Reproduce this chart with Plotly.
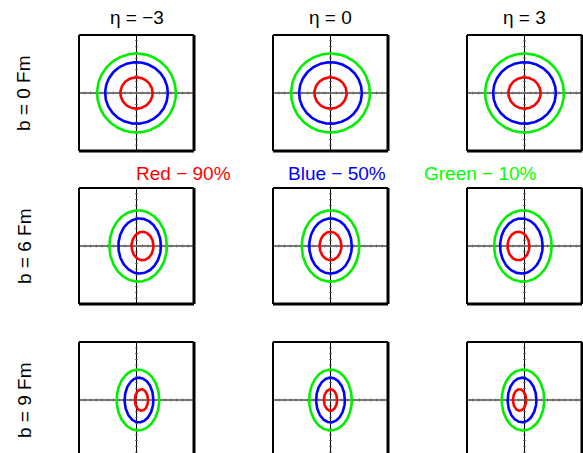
import numpy as np
import plotly.graph_objects as go

# Transverse-plane density contours for three impact parameters and three rapidities
eta_values = [-3, 0, 3]
b_values = [0, 6, 9]
level_names = ["Red", "Blue", "Green"]
level_pct = ["90%", "50%", "10%"]
level_colors = ["#ff0000", "#0000ff", "#00ee00"]
text_colors = ["#ff0000", "#0000ff", "#00ff00"]

# Semi-axes (fm) of each contour level, per impact parameter: [red, blue, green]
semi_x = {0: [2.8, 5.45, 6.85], 6: [1.9, 3.7, 5.0], 9: [1.15, 2.5, 3.7]}
semi_y = {0: [2.7, 5.3, 6.8], 6: [2.45, 4.75, 6.15], 9: [1.85, 3.85, 5.25]}
# Horizontal centre shift (fm) of each level at eta = -3 (mirrored at eta = +3)
shift_fwd = {0: [0.0, 0.0, 0.0], 6: [1.05, 0.55, 0.28], 9: [0.86, 0.43, 0.26]}

half_range = 10.0  # fm shown either side of the origin

# Page geometry (px)
W, H = 583, 453
col_left = [79, 273, 467]
row_top = [35, 188, 342]
panel_w, panel_h = 115, 116

font_family = "Liberation Sans, Arial, Helvetica, sans-serif"
font_size = 19

fig = go.Figure()
shapes = []
t = np.linspace(0, 2 * np.pi, 240)
ticks = np.arange(-10, 11, 1)

n = 0
for r, b in enumerate(b_values):
    for c, eta in enumerate(eta_values):
        n += 1
        xa = "x" if n == 1 else f"x{n}"
        ya = "y" if n == 1 else f"y{n}"
        xk = "xaxis" if n == 1 else f"xaxis{n}"
        yk = "yaxis" if n == 1 else f"yaxis{n}"

        # panel placement, clipped at the bottom of the page
        x0, x1 = col_left[c] / W, (col_left[c] + panel_w) / W
        top_px, bot_px = row_top[r], row_top[r] + panel_h
        px_per_fm = panel_h / (2 * half_range)
        y_lo = -half_range
        clipped = bot_px > H
        if clipped:
            y_lo = -half_range + (bot_px - H) / px_per_fm
            bot_px = H
        y0, y1 = 1 - bot_px / H, 1 - top_px / H

        axis_common = dict(showgrid=False, showticklabels=False, ticks="",
                           zeroline=True, showline=False, fixedrange=True)
        # x zeroline is the vertical crosshair, y zeroline the horizontal one
        fig.layout[xk] = dict(domain=[x0, x1], range=[-half_range, half_range],
                              anchor=ya, zerolinecolor="#000", zerolinewidth=1,
                              **axis_common)
        fig.layout[yk] = dict(domain=[y0, y1], range=[y_lo, half_range],
                              anchor=xa, zerolinecolor="#777", zerolinewidth=1.6,
                              **axis_common)

        # faint ticks along the crosshair
        fig.add_trace(go.Scatter(x=ticks, y=np.zeros_like(ticks), mode="markers",
                                 marker=dict(symbol="line-ns-open", size=2, color="#666",
                                             line=dict(color="#666", width=1)),
                                 xaxis=xa, yaxis=ya, hoverinfo="skip", showlegend=False))
        fig.add_trace(go.Scatter(x=np.zeros_like(ticks), y=ticks, mode="markers",
                                 marker=dict(symbol="line-ew-open", size=2, color="#666",
                                             line=dict(color="#666", width=1)),
                                 xaxis=xa, yaxis=ya, hoverinfo="skip", showlegend=False))

        # contour ellipses, outermost first
        sign = -np.sign(eta) if eta != 0 else 0
        for k in [2, 1, 0]:
            cx = sign * shift_fwd[b][k]
            fig.add_trace(go.Scatter(
                x=cx + semi_x[b][k] * np.cos(t), y=semi_y[b][k] * np.sin(t),
                mode="lines", line=dict(color=level_colors[k], width=2.6),
                xaxis=xa, yaxis=ya, hoverinfo="skip", showlegend=False))

        # frame: thin left/top, heavier right/bottom
        dom = dict(xref=f"{xa} domain", yref=f"{ya} domain")
        shapes.append(dict(type="line", x0=0, x1=0, y0=0, y1=1,
                           line=dict(color="black", width=2), **dom))
        shapes.append(dict(type="line", x0=0, x1=1, y0=1, y1=1,
                           line=dict(color="black", width=2), **dom))
        shapes.append(dict(type="line", x0=1, x1=1, y0=0, y1=1,
                           line=dict(color="black", width=3), **dom))
        if not clipped:
            shapes.append(dict(type="line", x0=0, x1=1, y0=0, y1=0,
                               line=dict(color="black", width=3), **dom))

annotations = []
# column headers
for c, eta in enumerate(eta_values):
    label = f"\u03b7 = {eta}".replace("-", "\u2212")
    annotations.append(dict(text=label, xref="paper", yref="paper",
                            x=(col_left[c] + panel_w / 2) / W, y=1 - 18 / H,
                            xanchor="center", yanchor="middle", showarrow=False,
                            font=dict(size=font_size, color="black", family=font_family)))
# row headers
for r, b in enumerate(b_values):
    yc = row_top[r] + 58
    annotations.append(dict(text=f"b = {b} Fm", xref="paper", yref="paper",
                            x=24 / W, y=1 - yc / H, textangle=-90,
                            xanchor="center", yanchor="middle", showarrow=False,
                            font=dict(size=font_size, color="black", family=font_family)))
# contour level key
key_x = [183, 337, 480]
for k in range(3):
    annotations.append(dict(text=f"{level_names[k]} \u2212 {level_pct[k]}",
                            xref="paper", yref="paper",
                            x=key_x[k] / W, y=1 - 174 / H,
                            xanchor="center", yanchor="middle", showarrow=False,
                            font=dict(size=font_size, color=text_colors[k], family=font_family)))

fig.update_layout(width=W, height=H, margin=dict(l=0, r=0, t=0, b=0),
                  paper_bgcolor="white", plot_bgcolor="white",
                  shapes=shapes, annotations=annotations, showlegend=False)

fig.write_html("out.html", config={"displayModeBar": False})
